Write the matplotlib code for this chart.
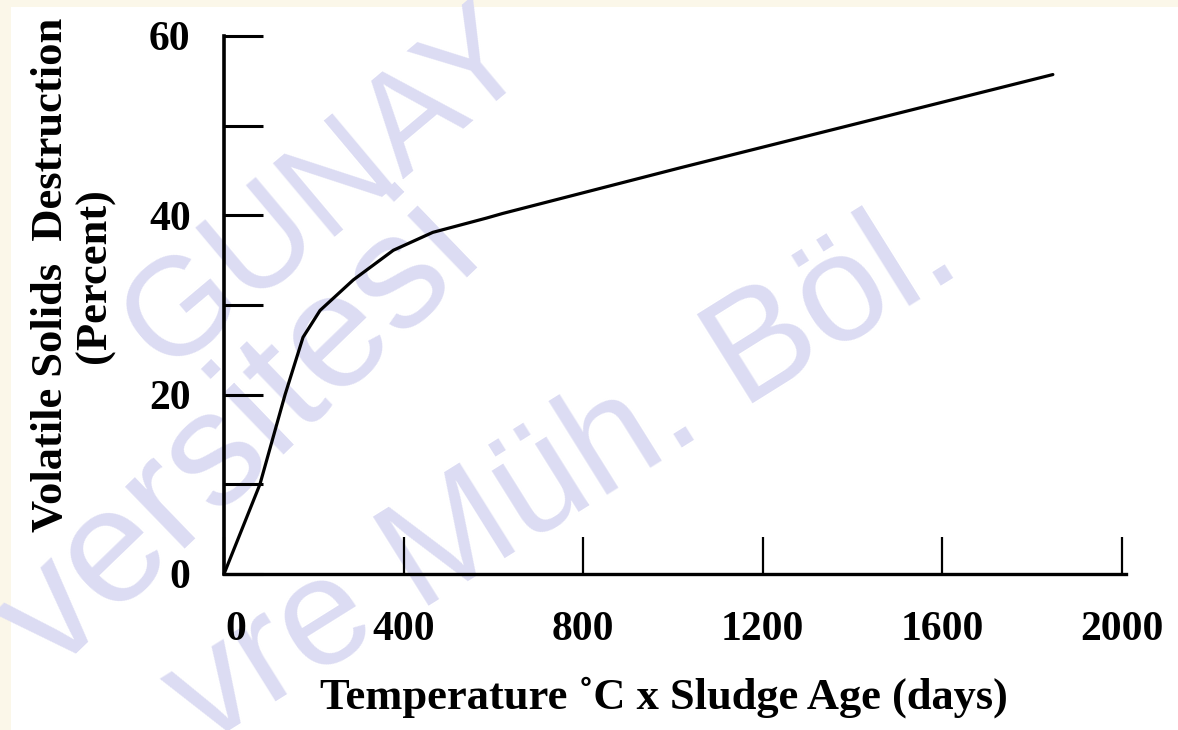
import matplotlib
matplotlib.use('Agg')
import matplotlib.pyplot as plt
import matplotlib.transforms as mtransforms
from matplotlib.patches import Rectangle

# curve
temp_x_age = [0, 80, 136, 176, 214, 288, 377, 465, 585, 620, 1016, 1846]
vs_destruction = [0, 10, 20, 26.4, 29.4, 32.8, 36.1, 38.1, 39.7, 40.2, 45.3, 55.7]

x_ticks = [0, 400, 800, 1200, 1600, 2000]
x_tick_labels = ['0', '400', '800', '1200', '1600', '2000']
y_ticks = [0, 10, 20, 30, 40, 50, 60]
y_tick_labels = ['0', '', '20', '', '40', '', '60']

x_label = 'Temperature \u02daC x Sludge Age (days)'
y_label_1 = 'Volatile Solids  Destruction'
y_label_2 = '(Percent)'

# watermark words of the scanned page
wm_words = ['GUNAY', 'versitesi', 'vre M\u00fch. B\u00f6l.']

W, H = 1178, 730
SERIF = ['Liberation Serif', 'DejaVu Serif']
WM_COLOR = '#dcdcf3'

fig = plt.figure(figsize=(W / 100, H / 100), dpi=100, facecolor='#fbf7e9')

# white page area, cream strip at top and left
fig.add_artist(Rectangle((11 / W, 0), 1 - 11 / W, 1 - 7 / H, transform=fig.transFigure,
                         facecolor='white', edgecolor='none', zorder=-5))


def px(x, y):
    return x / W, 1 - y / H


# watermark (behind the plot)
fig.text(*px(327, 190), wm_words[0], fontsize=100, color=WM_COLOR, family='Liberation Sans',
         rotation=40, rotation_mode='anchor', ha='center', va='center', zorder=-4)
fig.text(*px(240, 437), wm_words[1], fontsize=118, color=WM_COLOR, family='Liberation Sans',
         rotation=44, rotation_mode='anchor', ha='center', va='center', zorder=-4)
fig.text(*px(966, 270), wm_words[2], fontsize=110, color=WM_COLOR, family='Liberation Sans',
         rotation=32, rotation_mode='anchor', ha='right', va='baseline', zorder=-4)

ax = fig.add_axes([224 / W, 1 - 574 / H, (1122 - 224) / W, (574 - 36) / H])
ax.set_facecolor('none')

ax.plot(temp_x_age, vs_destruction, color='black', lw=2.3, solid_joinstyle='round',
        solid_capstyle='round', clip_on=False)

ax.set_xlim(0, 2000)
ax.set_ylim(0, 60)

for s in ['top', 'right']:
    ax.spines[s].set_visible(False)
ax.spines['left'].set_linewidth(2.6)
ax.spines['bottom'].set_linewidth(2.4)
ax.spines['bottom'].set_bounds(0, 2010)

ax.set_xticks(x_ticks)
ax.set_xticklabels(x_tick_labels)
ax.set_yticks(y_ticks)
ax.set_yticklabels(y_tick_labels)

ax.tick_params(axis='y', direction='in', length=28, width=2.2, pad=24)
ax.tick_params(axis='x', direction='in', length=27, width=1.6, pad=27)

for lab in ax.get_xticklabels() + ax.get_yticklabels():
    lab.set_fontfamily(SERIF)
    lab.set_fontweight('bold')
    lab.set_fontsize(30)

# the scan has the "0" label nudged to the right of the axis
xlab0 = ax.get_xticklabels()[0]
xlab0.set_transform(xlab0.get_transform() +
                    mtransforms.ScaledTranslation(0.12, 0, fig.dpi_scale_trans))

fig.text(*px(664, 697), x_label, ha='center', va='center', fontsize=32,
         fontweight='bold', family=SERIF)
fig.text(*px(62, 275), y_label_1, rotation=90, rotation_mode='anchor', ha='center',
         va='baseline', fontsize=32, fontweight='bold', family=SERIF)
fig.text(*px(106, 276), y_label_2, rotation=90, rotation_mode='anchor', ha='center',
         va='baseline', fontsize=32, fontweight='bold', family=SERIF)

fig.savefig('out.png', dpi=100, facecolor=fig.get_facecolor())
